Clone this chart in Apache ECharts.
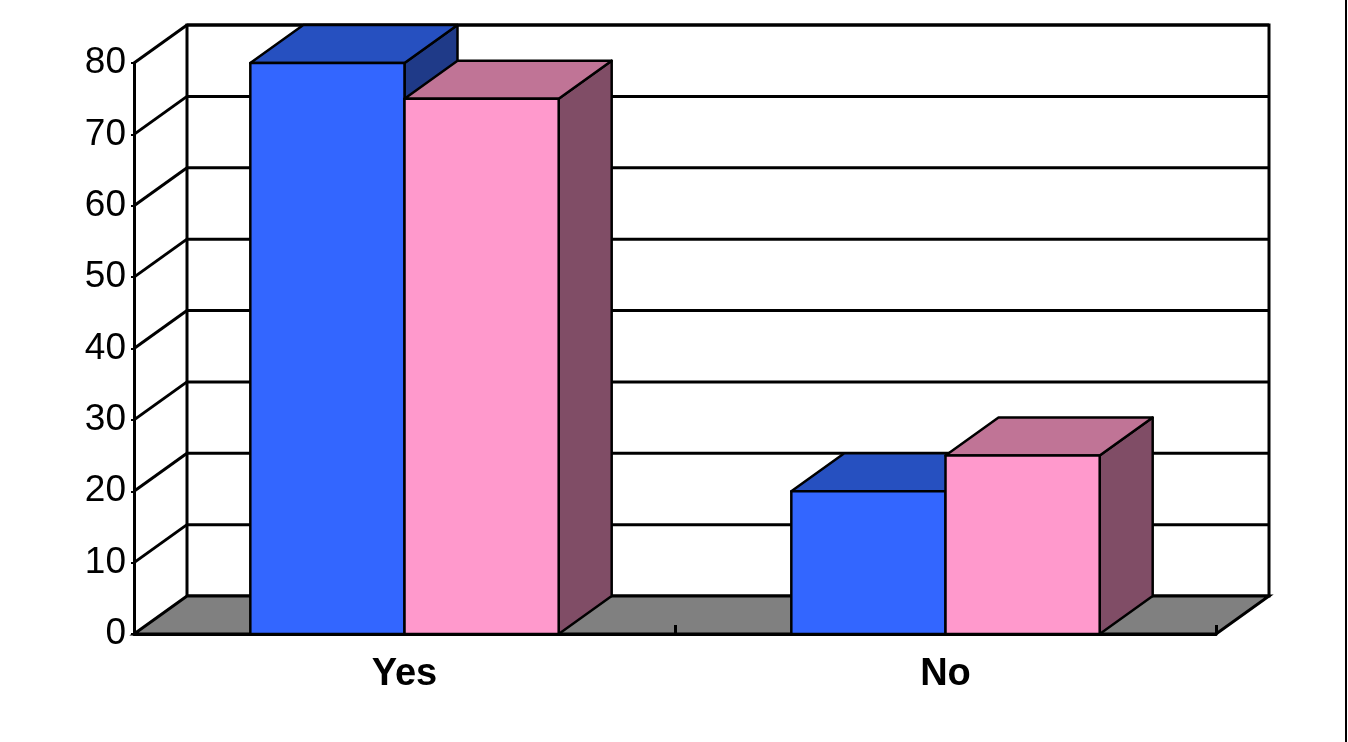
<!DOCTYPE html>
<html>
<head>
<meta charset="utf-8">
<script src="https://cdn.jsdelivr.net/npm/echarts@6/dist/echarts.min.js"></script>
<style>
html,body{margin:0;padding:0;background:#fff;}
#chart{width:1348px;height:742px;}
</style>
</head>
<body>
<div id="chart"></div>
<script>
// ---- data ----
const categories = ['Yes', 'No'];
const seriesBlue = [80, 20];
const seriesPink = [75, 25];
const yTicks = [0, 10, 20, 30, 40, 50, 60, 70, 80];

// ---- style constants ----
const DX = 53, DY = -38;       // 3D depth offset in px
const BAR_FRAC = 0.285;        // bar width as fraction of category band
const LW = 3;

const chart = echarts.init(document.getElementById('chart'));

function frameRender(params, api) {
  const cs = params.coordSys;
  const x0 = cs.x, x1 = cs.x + cs.width;
  const yZero = api.coord([0, 0])[1];
  const yTop = api.coord([0, yTicks[yTicks.length - 1]])[1];
  const children = [];
  // back wall
  children.push({type:'polygon', shape:{points:[[x0+DX,yTop+DY],[x1+DX,yTop+DY],[x1+DX,yZero+DY],[x0+DX,yZero+DY]]},
    style:{fill:'#fff', stroke:'#000', lineWidth:LW}});
  // floor
  children.push({type:'polygon', shape:{points:[[x0,yZero],[x1,yZero],[x1+DX,yZero+DY],[x0+DX,yZero+DY]]},
    style:{fill:'#808080', stroke:'#000', lineWidth:LW, lineJoin:'miter'}});
  yTicks.forEach(v => {
    const y = api.coord([0, v])[1];
    if (v !== 0) {
      children.push({type:'line', shape:{x1:x0+DX, y1:y+DY, x2:x1+DX, y2:y+DY}, style:{stroke:'#000', lineWidth:LW}});
      children.push({type:'line', shape:{x1:x0, y1:y, x2:x0+DX, y2:y+DY}, style:{stroke:'#000', lineWidth:LW}});
    }
  });
  return {type:'group', children};
}

function makeBarRender(side, colors) {
  return function (params, api) {
    const idx = api.value(0);
    const val = api.value(1);
    const c = api.coord([idx, 0]);
    const band = api.size([1, 0])[0];
    const w = band * BAR_FRAC;
    const xl = side < 0 ? c[0] - w : c[0];
    const xr = xl + w;
    const yv = api.coord([idx, val])[1];
    const y0 = c[1];
    const st = {stroke:'#000', lineWidth:2.5, lineJoin:'round'};
    return {type:'group', children:[
      {type:'polygon', shape:{points:[[xr,yv],[xr+DX,yv+DY],[xr+DX,y0+DY],[xr,y0]]}, style:Object.assign({fill:colors.side}, st)},
      {type:'polygon', shape:{points:[[xl,yv],[xr,yv],[xr+DX,yv+DY],[xl+DX,yv+DY]]}, style:Object.assign({fill:colors.top}, st)},
      {type:'polygon', shape:{points:[[xl,yv],[xr,yv],[xr,y0],[xl,y0]]}, style:Object.assign({fill:colors.front}, st)}
    ]};
  };
}

chart.setOption({
  backgroundColor: '#fff',
  animation: false,
  grid: {left: 134, right: 132, top: 63, bottom: 108},
  xAxis: {
    type: 'category',
    data: categories,
    z: 10,
    axisLine: {show: true, lineStyle: {color: '#000', width: LW}},
    axisTick: {show: true, inside: true, length: 9, lineStyle: {color: '#000', width: LW}},
    axisLabel: {color: '#000', fontSize: 38, fontWeight: 'bold', fontFamily: 'Liberation Sans', margin: 22},
    splitLine: {show: false}
  },
  yAxis: {
    type: 'value',
    min: 0, max: 80, interval: 10,
    z: 10,
    axisLine: {show: true, lineStyle: {color: '#000', width: LW}},
    axisTick: {show: true, length: 3, lineStyle: {color: '#000', width: 2}},
    axisLabel: {color: '#000', fontSize: 37, fontFamily: 'Liberation Sans', margin: 8, padding: [6, 0, 0, 0]},
    splitLine: {show: false}
  },
  graphic: [{type:'rect', right: 1, top: 0, shape:{width:2, height:742}, style:{fill:'#000'}}],
  series: [
    {type:'custom', z:1, renderItem: frameRender, data:[[0,0]], silent:true},
    {type:'custom', z:2, renderItem: makeBarRender(-1, {front:'#3366FF', top:'#2650C0', side:'#1F3A88'}),
      data: seriesBlue.map((v,i)=>[i,v])},
    {type:'custom', z:3, renderItem: makeBarRender(1, {front:'#FF99CC', top:'#C07496', side:'#804D66'}),
      data: seriesPink.map((v,i)=>[i,v])}
  ]
});
</script>
</body>
</html>
